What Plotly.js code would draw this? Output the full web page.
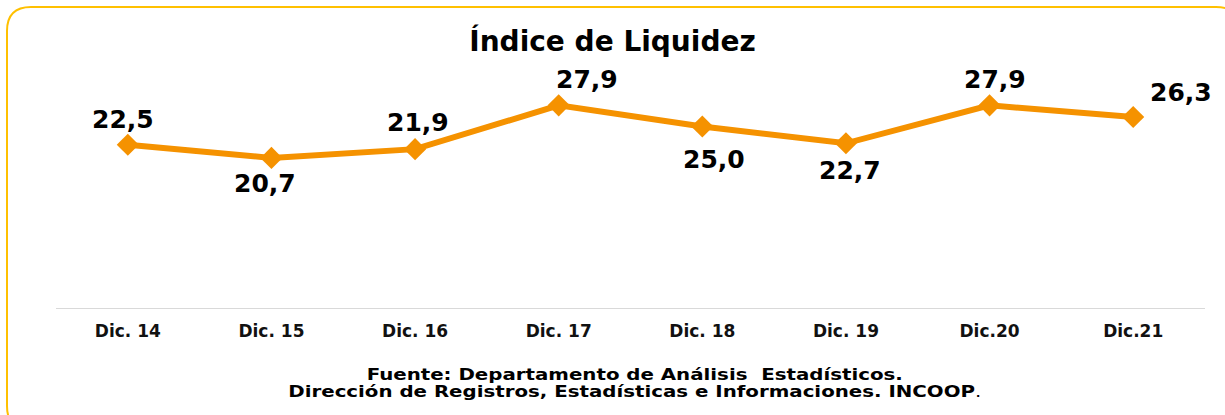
<!DOCTYPE html>
<html>
<head>
<meta charset="utf-8">
<script src="https://cdn.plot.ly/plotly-3.0.1.min.js"></script>
<style>html,body{margin:0;padding:0;background:#fff;}#chart{width:1225px;height:415px;}</style>
</head>
<body>
<div id="chart"></div>
<script>
// ---- data ----
const categories = ["Dic. 14", "Dic. 15", "Dic. 16", "Dic. 17", "Dic. 18", "Dic. 19", "Dic.20", "Dic.21"];
const values = [22.5, 20.7, 21.9, 27.9, 25.0, 22.7, 27.9, 26.3];
const valueLabels = ["22,5", "20,7", "21,9", "27,9", "25,0", "22,7", "27,9", "26,3"];
const titleText = "Índice de Liquidez";
const sourceLine1 = "<b>Fuente: Departamento de Análisis  Estadísticos.</b>";
const sourceLine2 = "<b>Dirección de Registros, Estadísticas e Informaciones. INCOOP</b>.";

// ---- layout helpers (pixel geometry) ----
const W = 1225, H = 415;
const M = {l: 56, r: 20, t: 50, b: 107};
const PW = W - M.l - M.r, PH = H - M.t - M.b;
const px = x => (x - M.l) / PW;
const py = y => (H - M.b - y) / PH;

// label offsets (pixels) relative to each point
const labelShift = [[-5, 25], [-6, -26], [3, 27], [28, 26], [12, -33], [4, -27], [5, 26], [48, 25]];

const FONT = "DejaVu Sans, Arial, sans-serif";
const orange = "#F59200";
const NOTE_SIZE = 15;

const annotations = categories.map((c, i) => ({
  x: c, y: values[i], xref: "x", yref: "y",
  text: "<b>" + valueLabels[i] + "</b>",
  showarrow: false, xanchor: "center", yanchor: "middle",
  xshift: labelShift[i][0], yshift: labelShift[i][1],
  font: {family: FONT, size: 25, color: "#000"}
}));
annotations.push({
  xref: "paper", yref: "paper", x: px(634.5), y: py(382), xanchor: "center", yanchor: "middle",
  text: sourceLine1 + "<br>" + sourceLine2, align: "center",
  showarrow: false, font: {family: FONT, size: NOTE_SIZE, color: "#000"}
});

// rounded border
const bx0 = 7, by0 = 7, bx1 = 1240, by1 = 430, r = 24;
const P = (x, y) => px(x) + "," + py(y);
const borderPath =
  "M" + P(bx0 + r, by0) + " L" + P(bx1 - r, by0) + " Q" + P(bx1, by0) + " " + P(bx1, by0 + r) +
  " L" + P(bx1, by1 - r) + " Q" + P(bx1, by1) + " " + P(bx1 - r, by1) +
  " L" + P(bx0 + r, by1) + " Q" + P(bx0, by1) + " " + P(bx0, by1 - r) +
  " L" + P(bx0, by0 + r) + " Q" + P(bx0, by0) + " " + P(bx0 + r, by0) + " Z";

const trace = {
  x: categories, y: values, type: "scatter", mode: "lines+markers",
  line: {color: orange, width: 6},
  marker: {symbol: "diamond", size: 17, color: orange},
  hoverinfo: "skip", cliponaxis: false
};

const layout = {
  width: W, height: H,
  margin: M,
  paper_bgcolor: "#fff", plot_bgcolor: "#fff",
  showlegend: false,
  title: {
    text: "<b>" + titleText + "</b>",
    font: {family: FONT, size: 28, color: "#000"},
    x: 0.5, xref: "container", y: 1 - 41 / H, yref: "container", yanchor: "middle"
  },
  xaxis: {
    type: "category", range: [-0.5, 7.5],
    showgrid: false, zeroline: false,
    showline: true, linecolor: "#D9D9D9", linewidth: 1,
    ticks: "", ticklabelstandoff: 8,
    tickfont: {family: FONT, size: 17, color: "#111", weight: "bold"},
    fixedrange: true
  },
  yaxis: {
    range: [0.14, 35.48], visible: false, fixedrange: true
  },
  annotations: annotations,
  shapes: [{
    type: "path", xref: "paper", yref: "paper", path: borderPath,
    line: {color: "#FFC000", width: 2}, fillcolor: "rgba(0,0,0,0)", layer: "above"
  }]
};

Plotly.newPlot("chart", [trace], layout, {displayModeBar: false, staticPlot: true}).then(gd => {
  // the source note in the reference is set tight and horizontally stretched
  const notes = gd.querySelectorAll(".annotation");
  const t = notes[notes.length - 1] && notes[notes.length - 1].querySelector("text");
  if (!t) return;
  const lines = t.querySelectorAll("tspan.line");
  if (lines.length > 1) lines[1].setAttribute("dy", "17.5px");
  const stretch = 1.32;
  const bb = t.getBBox();
  const cx = bb.x + bb.width / 2;
  const rect = t.getBoundingClientRect();
  const rootTop = gd.getBoundingClientRect().top;
  const baseline1 = rect.top - rootTop + 0.928 * NOTE_SIZE;
  const dy = 379.5 - baseline1;
  t.setAttribute("transform",
    `translate(0,${dy}) translate(${cx},0) scale(${stretch},1) translate(${-cx},0)`);
});
</script>
</body>
</html>
